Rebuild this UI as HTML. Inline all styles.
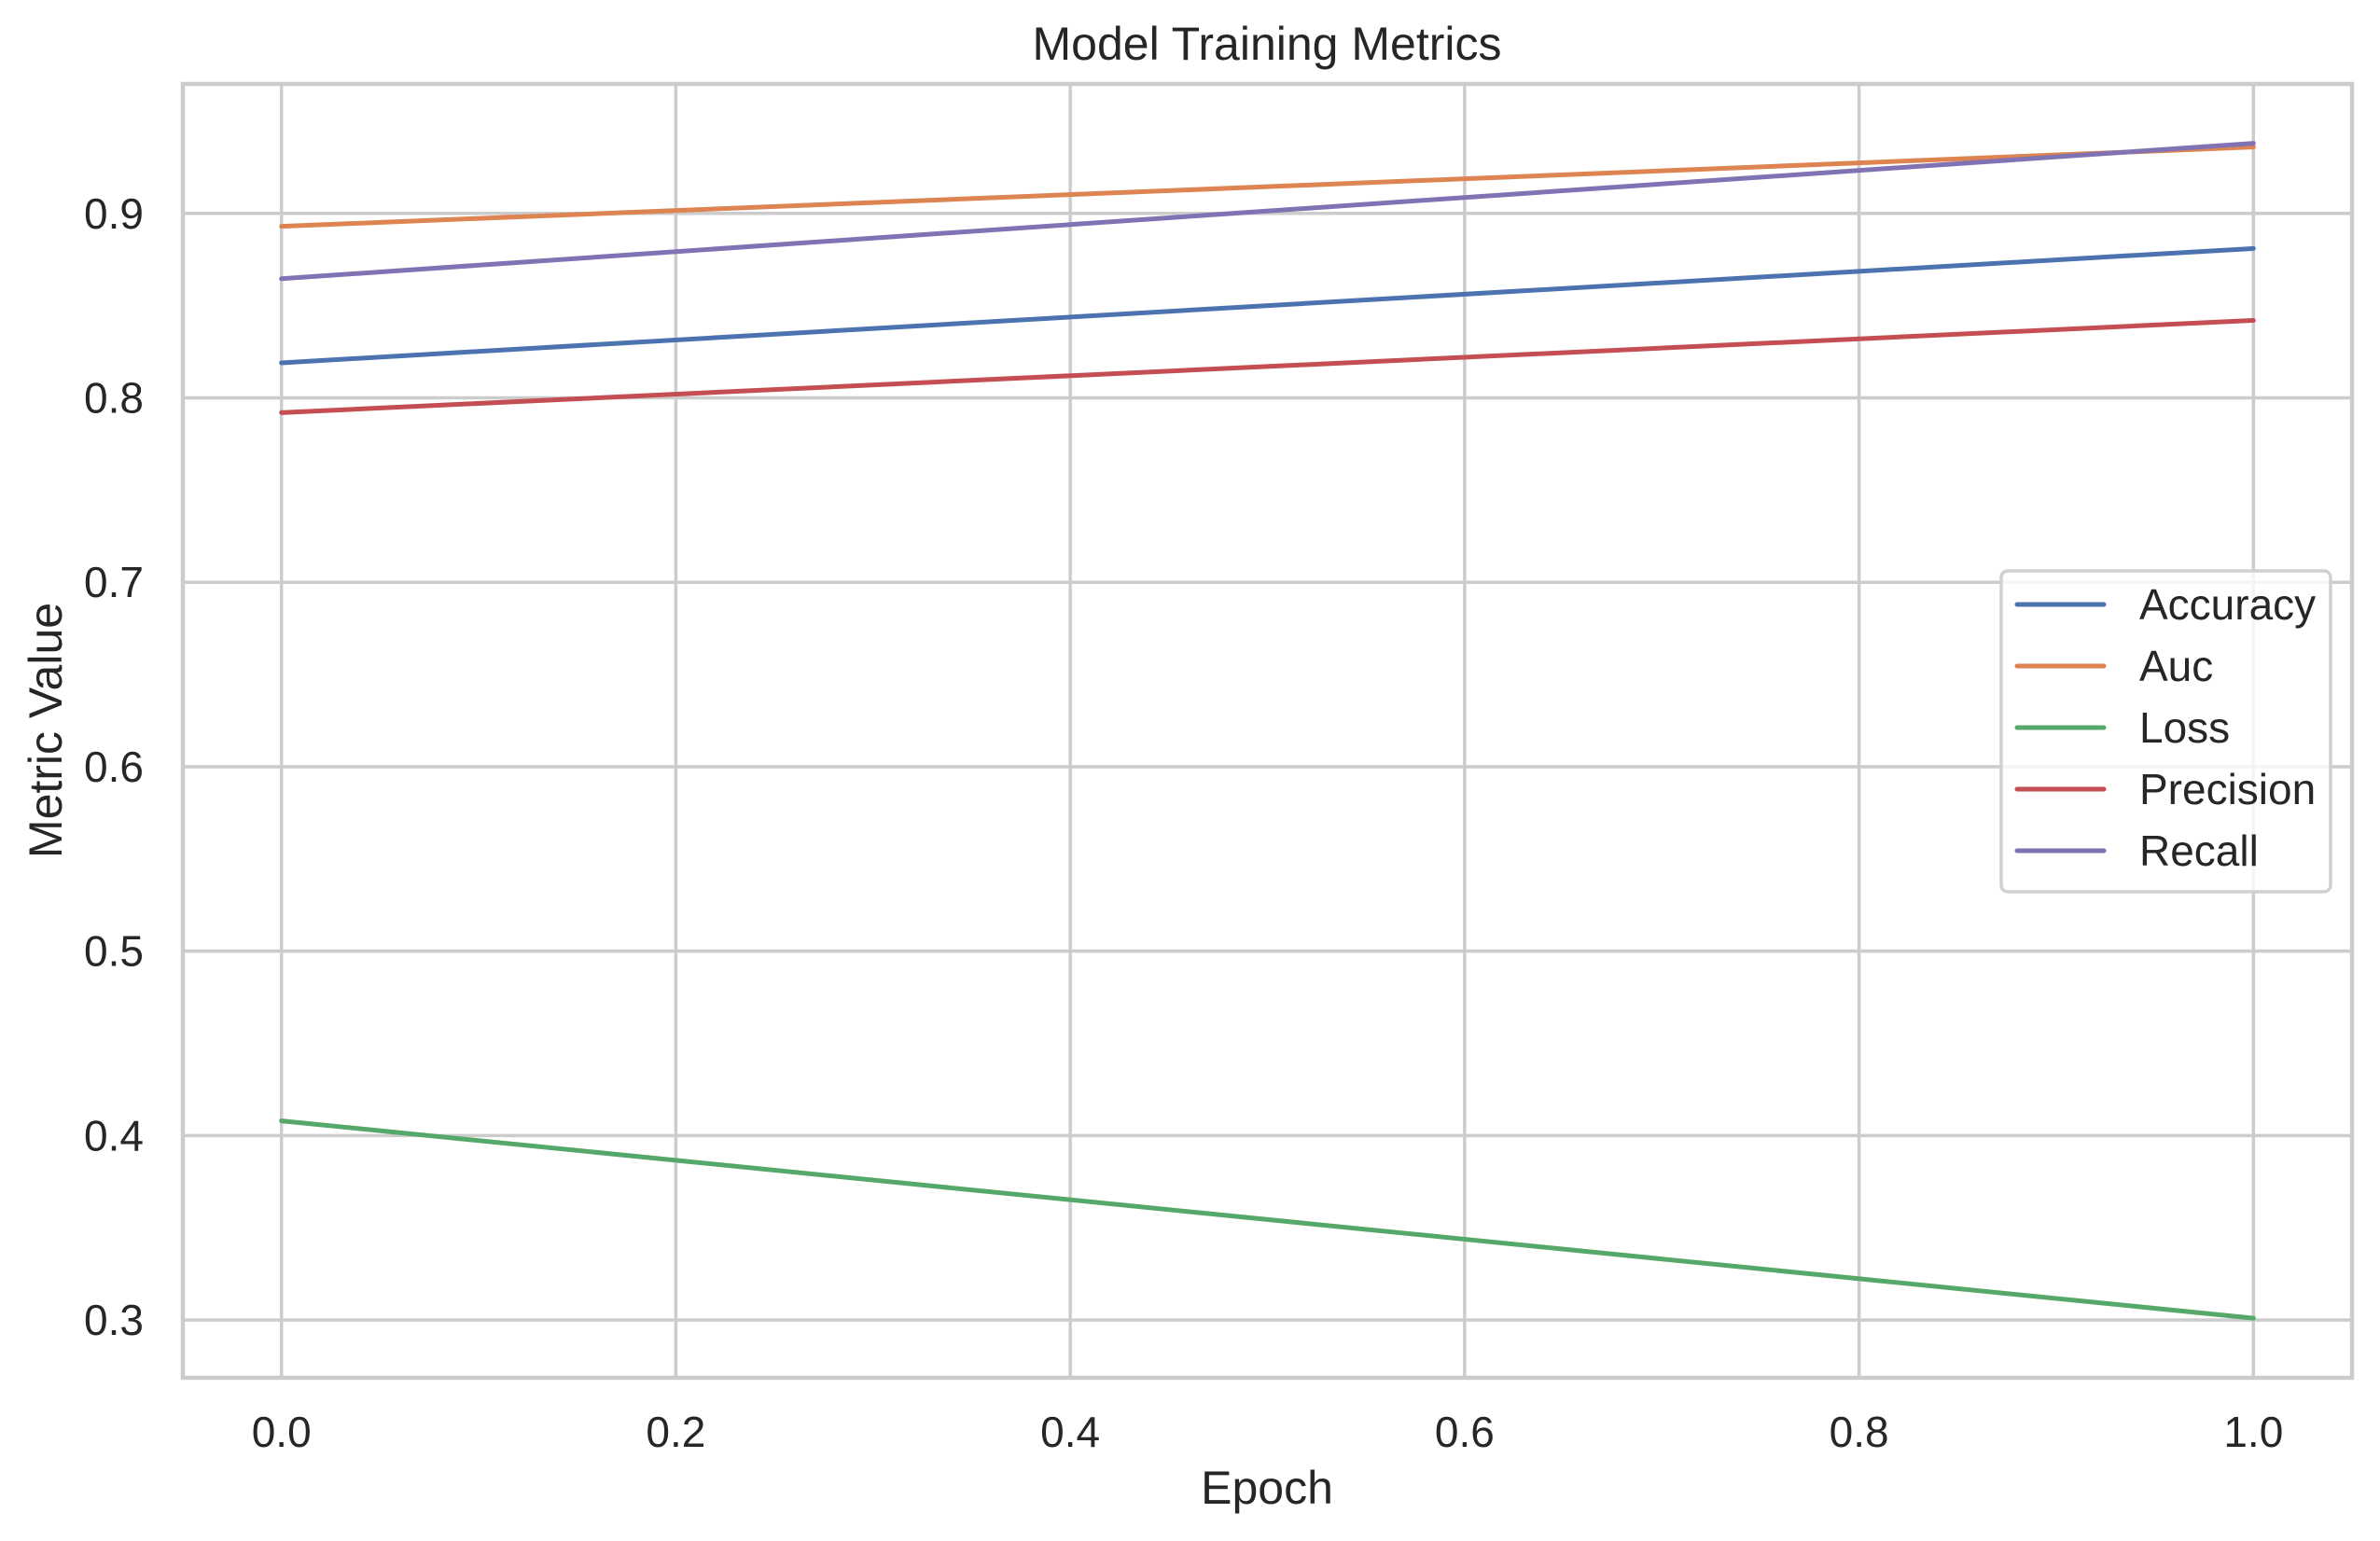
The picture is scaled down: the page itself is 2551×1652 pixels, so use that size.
<!DOCTYPE html>
<html><head><meta charset="utf-8"><style>
html,body{margin:0;padding:0;background:#fff;}
svg{display:block;font-family:"Liberation Sans",Arial,sans-serif;}
</style></head><body>
<svg id="chart" width="2551" height="1652" viewBox="0 0 2551 1652" xmlns="http://www.w3.org/2000/svg">
<rect width="2551" height="1652" fill="#fff"/>
<g id="grid"></g>
<g id="series"></g>
<rect x="196" y="90" width="2325" height="1387" fill="none" stroke="#cccccc" stroke-width="4.5"/>
<g id="ticks"></g>
<text x="1358" y="64" font-size="50" text-anchor="middle" fill="#262626">Model Training Metrics</text>
<text x="1358" y="1612" font-size="50" text-anchor="middle" fill="#262626">Epoch</text>
<text x="0" y="0" font-size="50" text-anchor="middle" fill="#262626" transform="translate(66,783) rotate(-90)">Metric Value</text>
<g id="legend"></g>
</svg>
<script>
const epochs = [0, 1];
const seriesNames = ["Accuracy", "Auc", "Loss", "Precision", "Recall"];
const accuracy = [0.819, 0.881];
const auc = [0.893, 0.936];
const loss = [0.408, 0.301];
const precision = [0.792, 0.842];
const recall = [0.8646, 0.938];
const xTicks = [0.0, 0.2, 0.4, 0.6, 0.8, 1.0];
const xTickLabels = ["0.0", "0.2", "0.4", "0.6", "0.8", "1.0"];
const yTicks = [0.3, 0.4, 0.5, 0.6, 0.7, 0.8, 0.9];
const yTickLabels = ["0.3", "0.4", "0.5", "0.6", "0.7", "0.8", "0.9"];

const colors = ["#4c72b0", "#dd8452", "#55a868", "#c44e52", "#8172b3"];
const allSeries = [accuracy, auc, loss, precision, recall];
const NS = "http://www.w3.org/2000/svg";
const X0 = 196, X1 = 2521, Y0 = 90, Y1 = 1477;
const xMin = -0.05, xMax = 1.05;
const yMin = 0.2687, yMax = 0.9702;
function xs(v){ return X0 + (v - xMin) / (xMax - xMin) * (X1 - X0); }
function ys(v){ return Y1 - (v - yMin) / (yMax - yMin) * (Y1 - Y0); }
function mk(tag, attrs, parent){
  const e = document.createElementNS(NS, tag);
  for (const k in attrs) e.setAttribute(k, attrs[k]);
  parent.appendChild(e);
  return e;
}
const grid = document.getElementById('grid');
const ticks = document.getElementById('ticks');
xTicks.forEach((t, i) => {
  const l = mk('line', {x1: xs(t), x2: xs(t), y1: Y0, y2: Y1, stroke: '#cccccc', 'stroke-width': 3.5}, grid);
  
  
  const tx = mk('text', {x: xs(t), y: 1551, 'font-size': 46, 'text-anchor': 'middle', fill: '#262626'}, ticks);
  tx.textContent = xTickLabels[i];
  
  
});
yTicks.forEach((t, i) => {
  const l = mk('line', {x1: X0, x2: X1, y1: ys(t), y2: ys(t), stroke: '#cccccc', 'stroke-width': 3.5}, grid);
  
  
  const tx = mk('text', {x: 154, y: ys(t) + 16, 'font-size': 46, 'text-anchor': 'end', fill: '#262626'}, ticks);
  tx.textContent = yTickLabels[i];
  
  
});
const sg = document.getElementById('series');
allSeries.forEach((vals, si) => {
  const pts = vals.map((v, i) => xs(epochs[i]) + ',' + ys(v)).join(' ');
  const pl = mk('polyline', {points: pts, fill: 'none', stroke: colors[si], 'stroke-width': 5, 'stroke-linecap': 'round'}, sg);
  
  
});
const lg = document.getElementById('legend');
const box = mk('rect', {x: 2145, y: 612, width: 353, height: 344, rx: 7, fill: 'rgba(255,255,255,0.8)', stroke: '#d0d0d0', 'stroke-width': 3.5}, lg);


seriesNames.forEach((n, i) => {
  const cy = 648 + i * 66;
  const g = mk('g', {}, lg);
  
  
  mk('line', {x1: 2162, x2: 2255, y1: cy, y2: cy, stroke: colors[i], 'stroke-width': 5, 'stroke-linecap': 'round'}, g);
  const t = mk('text', {x: 2293, y: cy + 16, 'font-size': 46, fill: '#262626'}, g);
  t.textContent = n;
});
</script>
</body></html>
